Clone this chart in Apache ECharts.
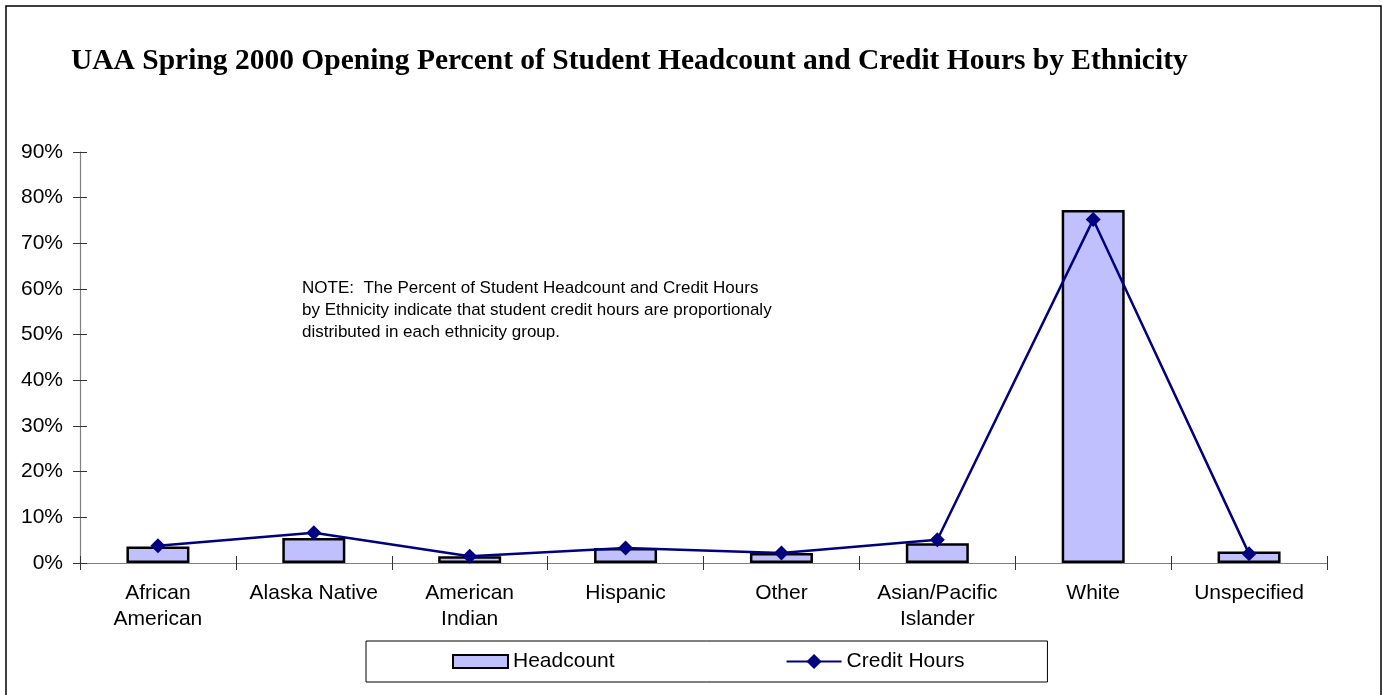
<!DOCTYPE html>
<html>
<head>
<meta charset="utf-8">
<script src="https://cdn.jsdelivr.net/npm/echarts@6/dist/echarts.min.js"></script>
<style>
html,body{margin:0;padding:0;background:#fff;}
#chart{width:1382px;height:695px;}
</style>
</head>
<body>
<div id="chart"></div>
<script>
const titleText = 'UAA Spring 2000 Opening Percent of Student Headcount and Credit Hours by Ethnicity';
const categories = ['African\nAmerican', 'Alaska Native', 'American\nIndian', 'Hispanic', 'Other', 'Asian/Pacific\nIslander', 'White', 'Unspecified'];
const headcount = [3.6, 5.5, 1.5, 3.3, 2.2, 4.3, 77.3, 2.5];
const creditHours = [3.8, 6.6, 1.5, 3.3, 2.2, 5.1, 75.2, 2.0];
const seriesNames = ['Headcount', 'Credit Hours'];
const noteLines = [
  'NOTE:  The Percent of Student Headcount and Credit Hours',
  'by Ethnicity indicate that student credit hours are proportionaly',
  'distributed in each ethnicity group.'
];

const FONT = '"Liberation Sans", Arial, sans-serif';
const chart = echarts.init(document.getElementById('chart'));
const yCommon = { type: 'value', min: 0, max: 90, interval: 10, splitLine: { show: false } };

chart.setOption({
  animation: false,
  backgroundColor: '#fff',
  title: {
    text: titleText,
    left: 71, top: 44, padding: 0,
    textStyle: { fontFamily: '"Liberation Serif", "Times New Roman", serif', fontWeight: 'bold', fontSize: 29.5, lineHeight: 34, color: '#000' }
  },
  grid: { left: 80, right: 55, top: 152, bottom: 132, containLabel: false, outerBoundsMode: 'none' },
  legend: {
    data: [{ name: seriesNames[0], icon: 'path://M0,0L55,0L55,13L0,13Z' }, { name: seriesNames[1] }],
    left: 366, top: 641, orient: 'horizontal',
    itemWidth: 55, itemHeight: 19, itemGap: 171,
    symbolKeepAspect: true,
    padding: [10, 83, 10, 86],
    borderColor: '#000', borderWidth: 1,
    textStyle: { fontFamily: FONT, fontSize: 21, color: '#000' }
  },
  xAxis: [
    {
      type: 'category', data: categories,
      axisLine: { lineStyle: { color: '#808080', width: 1.2 } },
      axisTick: { show: true, length: 7, lineStyle: { color: '#333' } },
      axisLabel: { fontFamily: FONT, fontSize: 21, color: '#000', lineHeight: 26, margin: 17, interval: 0 }
    },
    {
      type: 'category', data: categories, position: 'bottom',
      axisLine: { show: false },
      axisTick: { show: true, inside: true, length: 7, lineStyle: { color: '#333' } },
      axisLabel: { show: false }
    }
  ],
  yAxis: [
    Object.assign({}, yCommon, {
      axisLine: { show: true, lineStyle: { color: '#808080', width: 1.2 } },
      axisTick: { show: true, length: 7, lineStyle: { color: '#333' } },
      axisLabel: { formatter: '{value}%', fontFamily: FONT, fontSize: 21, color: '#000', margin: 17 }
    }),
    Object.assign({}, yCommon, {
      position: 'left',
      axisLine: { show: false },
      axisTick: { show: true, inside: true, length: 7, lineStyle: { color: '#333' } },
      axisLabel: { show: false }
    })
  ],
  series: [
    {
      name: seriesNames[0], type: 'bar', data: headcount, barWidth: 63,
      xAxisIndex: 0, yAxisIndex: 0,
      itemStyle: { color: '#c0c0ff', borderColor: '#000', borderWidth: 2.5 }
    },
    {
      name: seriesNames[1], type: 'line', data: creditHours,
      xAxisIndex: 0, yAxisIndex: 0, z: 5,
      symbol: 'diamond', symbolSize: 15,
      itemStyle: { color: '#000080' },
      lineStyle: { color: '#000080', width: 2.5 }
    }
  ],
  graphic: [
    {
      type: 'rect', silent: true, z: -1,
      shape: { x: 6, y: 6, width: 1375, height: 700 },
      style: { fill: 'none', stroke: '#000', lineWidth: 1.5 }
    },
    {
      type: 'text', left: 302, top: 277,
      style: { text: noteLines.join('\n'), font: '17px ' + FONT, lineHeight: 22, fill: '#000' }
    }
  ]
});
</script>
</body>
</html>
